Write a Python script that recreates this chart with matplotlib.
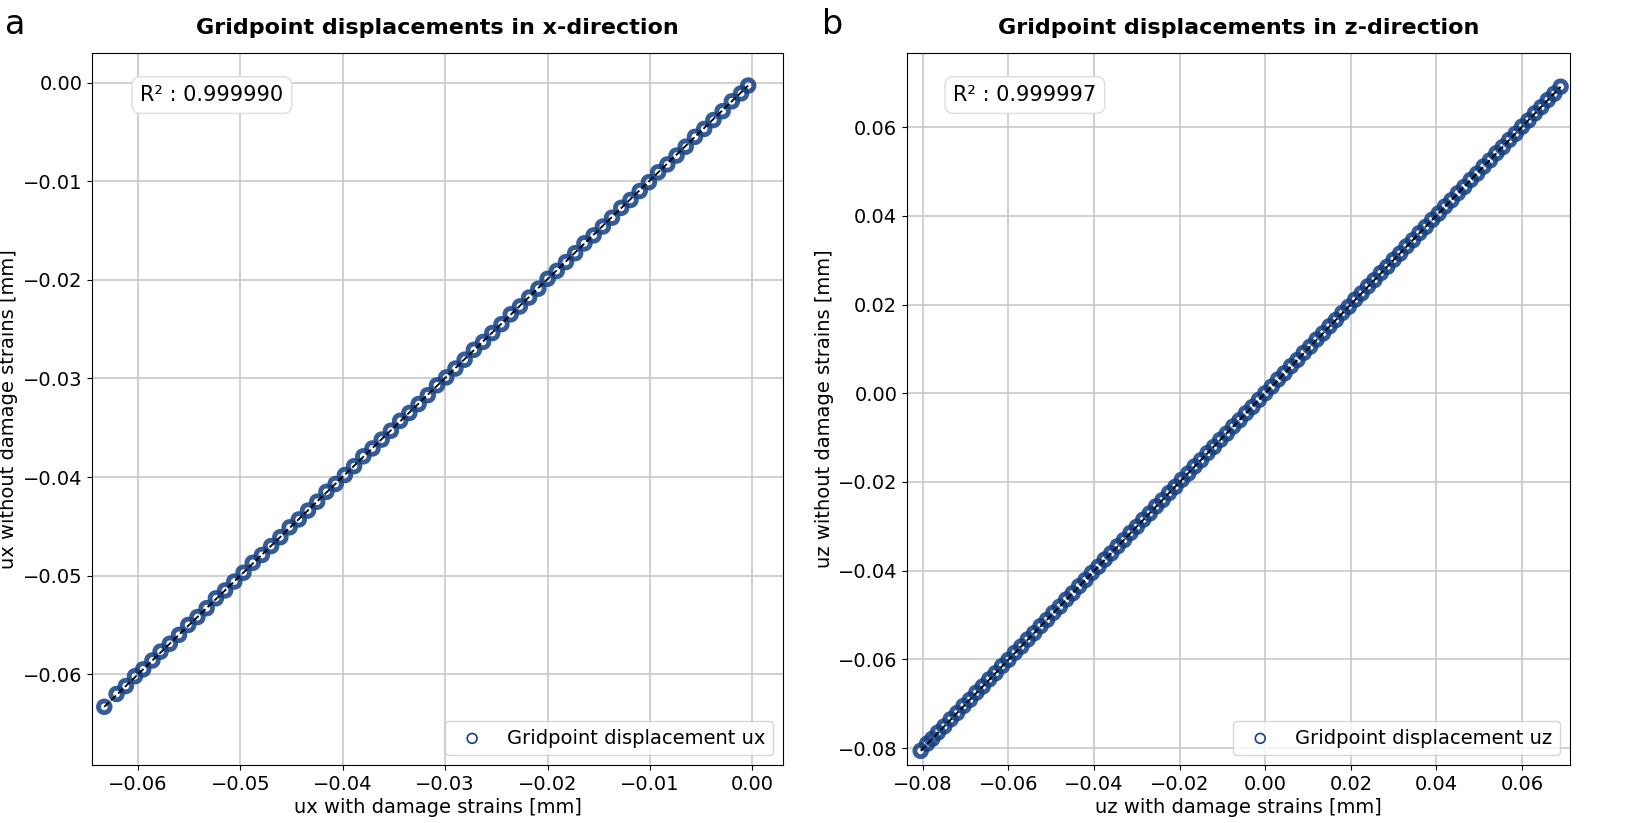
import matplotlib
matplotlib.use("Agg")
import matplotlib.pyplot as plt

ux_with = [-0.0633,-0.0621,-0.0612,-0.0603,-0.0595,-0.0586,-0.0578,-0.0569,-0.0560,-0.0551,-0.0542,-0.0533,-0.0524,-0.0515,-0.0506,-0.0497,-0.0488,-0.0479,-0.0470,-0.0461,-0.0452,-0.0443,-0.0434,-0.0425,-0.0416,-0.0407,-0.0398,-0.0389,-0.0380,-0.0371,-0.0362,-0.0353,-0.0344,-0.0335,-0.0326,-0.0317,-0.0308,-0.0299,-0.0290,-0.0281,-0.0272,-0.0263,-0.0254,-0.0245,-0.0236,-0.0227,-0.0218,-0.0209,-0.0200,-0.0191,-0.0182,-0.0173,-0.0164,-0.0155,-0.0146,-0.0137,-0.0128,-0.0119,-0.0110,-0.0101,-0.0092,-0.0083,-0.0074,-0.0065,-0.0056,-0.0047,-0.0038,-0.0029,-0.0020,-0.0011,-0.0004]
ux_without = [-0.0633,-0.0620,-0.0612,-0.0602,-0.0595,-0.0586,-0.0577,-0.0569,-0.0560,-0.0550,-0.0542,-0.0533,-0.0523,-0.0515,-0.0506,-0.0497,-0.0487,-0.0479,-0.0470,-0.0461,-0.0451,-0.0443,-0.0434,-0.0425,-0.0415,-0.0407,-0.0398,-0.0389,-0.0379,-0.0371,-0.0362,-0.0353,-0.0343,-0.0335,-0.0326,-0.0317,-0.0307,-0.0299,-0.0290,-0.0281,-0.0271,-0.0263,-0.0254,-0.0245,-0.0235,-0.0227,-0.0218,-0.0209,-0.0199,-0.0191,-0.0182,-0.0173,-0.0163,-0.0155,-0.0146,-0.0137,-0.0127,-0.0119,-0.0110,-0.0101,-0.0091,-0.0083,-0.0074,-0.0065,-0.0055,-0.0047,-0.0038,-0.0029,-0.0019,-0.0011,-0.0003]

uz_with = [-0.0805,-0.0790,-0.0778,-0.0765,-0.0750,-0.0735,-0.0720,-0.0705,-0.0690,-0.0675,-0.0660,-0.0645,-0.0630,-0.0615,-0.0600,-0.0585,-0.0570,-0.0555,-0.0540,-0.0525,-0.0510,-0.0495,-0.0480,-0.0465,-0.0450,-0.0435,-0.0420,-0.0405,-0.0390,-0.0375,-0.0360,-0.0345,-0.0330,-0.0315,-0.0300,-0.0285,-0.0270,-0.0255,-0.0240,-0.0225,-0.0210,-0.0195,-0.0180,-0.0165,-0.0150,-0.0135,-0.0120,-0.0105,-0.0090,-0.0075,-0.0060,-0.0045,-0.0030,-0.0015,0.0000,0.0015,0.0030,0.0045,0.0060,0.0075,0.0090,0.0105,0.0120,0.0135,0.0150,0.0165,0.0180,0.0195,0.0210,0.0225,0.0240,0.0255,0.0270,0.0285,0.0300,0.0315,0.0330,0.0345,0.0360,0.0375,0.0390,0.0405,0.0420,0.0435,0.0450,0.0465,0.0480,0.0495,0.0510,0.0525,0.0540,0.0555,0.0570,0.0585,0.0600,0.0615,0.0630,0.0645,0.0660,0.0675,0.0690]
uz_without = [-0.0806,-0.0790,-0.0779,-0.0765,-0.0751,-0.0735,-0.0721,-0.0705,-0.0691,-0.0675,-0.0661,-0.0645,-0.0631,-0.0615,-0.0601,-0.0585,-0.0571,-0.0555,-0.0541,-0.0525,-0.0511,-0.0495,-0.0481,-0.0465,-0.0451,-0.0435,-0.0421,-0.0405,-0.0391,-0.0375,-0.0361,-0.0345,-0.0331,-0.0315,-0.0301,-0.0285,-0.0271,-0.0255,-0.0241,-0.0225,-0.0211,-0.0195,-0.0181,-0.0165,-0.0151,-0.0135,-0.0121,-0.0105,-0.0091,-0.0075,-0.0061,-0.0045,-0.0031,-0.0015,0.0000,0.0015,0.0031,0.0045,0.0061,0.0075,0.0091,0.0105,0.0121,0.0135,0.0151,0.0165,0.0181,0.0195,0.0211,0.0225,0.0241,0.0255,0.0271,0.0285,0.0301,0.0315,0.0331,0.0345,0.0361,0.0375,0.0391,0.0405,0.0421,0.0435,0.0451,0.0465,0.0481,0.0495,0.0511,0.0525,0.0541,0.0555,0.0571,0.0585,0.0601,0.0615,0.0631,0.0645,0.0661,0.0675,0.0691]

r2 = ["0.999990", "0.999997"]
titles = ["Gridpoint displacements in x-direction", "Gridpoint displacements in z-direction"]
xlabels = ["ux with damage strains [mm]", "uz with damage strains [mm]"]
ylabels = ["ux without damage strains [mm]", "uz without damage strains [mm]"]
legends = ["Gridpoint displacement ux", "Gridpoint displacement uz"]
panel = ["a", "b"]

plt.rcParams['font.size'] = 14
fig = plt.figure(figsize=(16.5, 8.23), dpi=100)
ax1 = fig.add_axes([92/1650, 58/823, 691/1650, 712/823])
ax2 = fig.add_axes([907/1650, 58/823, 663/1650, 712/823])
data = [(ux_with, ux_without), (uz_with, uz_without)]
lims = [((-0.0645, 0.003), (-0.0692, 0.003)), ((-0.0837, 0.0712), (-0.0838, 0.0767))]
ticks = [([-0.06,-0.05,-0.04,-0.03,-0.02,-0.01,0.0],[-0.06,-0.05,-0.04,-0.03,-0.02,-0.01,0.0]),
         ([-0.08,-0.06,-0.04,-0.02,0,0.02,0.04,0.06],[-0.08,-0.06,-0.04,-0.02,0,0.02,0.04,0.06])]
for i, ax in enumerate([ax1, ax2]):
    x, y = data[i]
    ax.grid(True, color='#c8c8c8', lw=1.2, zorder=0)
    ax.scatter(x, y, s=70, facecolors='none', edgecolors='#123f85', alpha=0.85, lw=3.5,
               label=legends[i], zorder=2)
    ax.plot([min(x), max(x)], [min(y), max(y)], 'k--', lw=1.3, zorder=3)
    ax.set_xlim(*lims[i][0]); ax.set_ylim(*lims[i][1])
    ax.set_xticks(ticks[i][0]); ax.set_yticks(ticks[i][1])
    ax.set_xticklabels([f"{t:.2f}".replace('-', '\u2212') for t in ticks[i][0]])
    ax.set_yticklabels([f"{t:.2f}".replace('-', '\u2212') for t in ticks[i][1]])
    ax.set_title(titles[i], fontweight='bold', fontsize=16, pad=14)
    ax.set_xlabel(xlabels[i], labelpad=3); ax.set_ylabel(ylabels[i], labelpad=3)
    ax.text(0.07, 0.955, f"R² : {r2[i]}", transform=ax.transAxes, fontsize=15, va='top',
            bbox=dict(boxstyle='round,pad=0.4', fc='white', ec='#dddddd'))
    leg = ax.legend(loc='lower right', fontsize=14)
    for h in leg.legend_handles:
        h.set_alpha(1); h.set_linewidth(1.2); h.set_sizes([50])
fig.text(5/1650, 1-25/823, "a", fontsize=24, va='center')
fig.text(822/1650, 1-25/823, "b", fontsize=24, va='center')
fig.savefig("out.png", dpi=100)
